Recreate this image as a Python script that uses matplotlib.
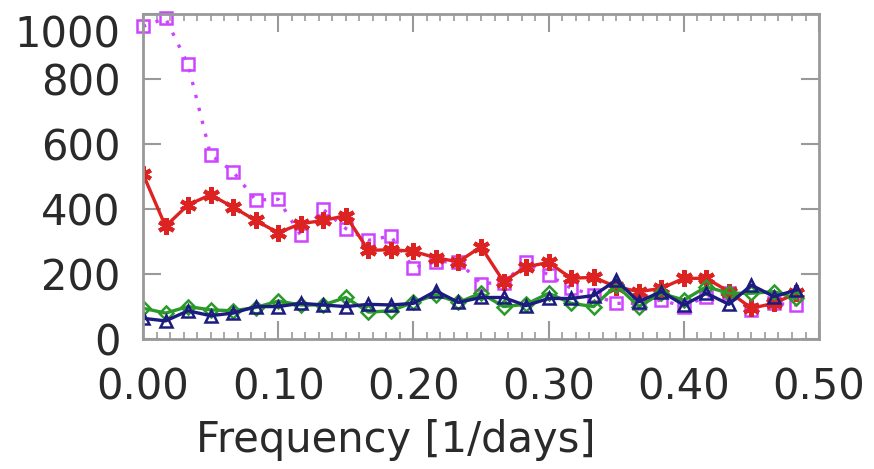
import matplotlib
matplotlib.use("Agg")
import matplotlib.pyplot as plt
from matplotlib.ticker import MultipleLocator

# frequencies of the periodogram bins [1/days]
freq = [0.0000, 0.0167, 0.0333, 0.0500, 0.0667, 0.0833, 0.1000, 0.1167, 0.1333, 0.1500,
        0.1667, 0.1833, 0.2000, 0.2167, 0.2333, 0.2500, 0.2667, 0.2833, 0.3000, 0.3167,
        0.3333, 0.3500, 0.3667, 0.3833, 0.4000, 0.4167, 0.4333, 0.4500, 0.4667, 0.4833]

red_vals = [508, 347, 413, 444, 406, 365, 327, 355, 365, 380,
            273, 275, 270, 250, 238, 284, 177, 222, 236, 187,
            190, 161, 146, 156, 187, 187, 146, 95, 110, 141]

magenta_vals = [962, 987, 845, 567, 515, 428, 430, 319, 399, 340,
                304, 317, 219, 238, 238, 171, 174, 236, 197, 156,
                136, 110, 110, 120, 100, 131, 141, 90, 110, 105]

green_vals = [95, 80, 100, 90, 87, 97, 117, 105, 105, 128,
              83, 87, 113, 136, 113, 141, 100, 107, 141, 110,
              100, 166, 100, 141, 120, 161, 141, 141, 146, 125]

blue_vals = [64, 56, 87, 72, 80, 100, 100, 110, 105, 100,
             107, 105, 110, 148, 113, 128, 128, 103, 125, 125,
             134, 181, 115, 146, 105, 141, 107, 166, 131, 151]

yticks = [0, 200, 400, 600, 800, 1000]

plt.rcParams["font.family"] = ["DejaVu Sans"]
text_col = "#2a2a2a"

fig = plt.figure(figsize=(8.74, 4.69), dpi=100)
ax = fig.add_axes([0.1636, 0.277, 0.7735, 0.693])

ax.plot(freq, magenta_vals, color="#cc44ff", linestyle=(0, (1, 3)), linewidth=2.4,
        marker="s", markersize=9, markerfacecolor="none", markeredgewidth=1.8,
        clip_on=False)
ax.plot(freq, red_vals, color="#dd2222", linewidth=2.4,
        marker=(6, 2, 0), markersize=12, markeredgewidth=3)
ax.plot(freq, green_vals, color="#2a9a2a", linewidth=2.4,
        marker="D", markersize=7, markerfacecolor="none", markeredgewidth=1.8)
ax.plot(freq, blue_vals, color="#1c1c80", linewidth=2.4,
        marker="^", markersize=9, markerfacecolor="none", markeredgewidth=1.8)

ax.set_xlim(0, 0.5)
ax.set_ylim(0, 1000)
ax.xaxis.set_major_locator(MultipleLocator(0.1))
ax.xaxis.set_minor_locator(MultipleLocator(0.01))
ax.set_yticks(yticks)
ax.set_xticklabels([f"{v:.2f}" for v in ax.get_xticks()])
ax.set_yticklabels([str(v) for v in yticks])
ax.get_yticklabels()[-1].set_verticalalignment("top")

ax.tick_params(axis="both", which="major", direction="in", length=13, width=1.5,
               color="#999999", top=True, right=True, labelsize=30,
               labelcolor=text_col)
ax.tick_params(axis="x", which="major", pad=20)
ax.tick_params(axis="y", which="major", pad=16)
ax.tick_params(axis="x", which="minor", direction="in", length=5, width=1.2,
               color="#999999", top=True)
for sp in ax.spines.values():
    sp.set_color("#999999")
    sp.set_linewidth(2)

ax.set_xlabel("Frequency [1/days]", fontsize=30, color=text_col)
ax.xaxis.set_label_coords(0.374, -0.245)

fig.savefig("out.png", dpi=100)
